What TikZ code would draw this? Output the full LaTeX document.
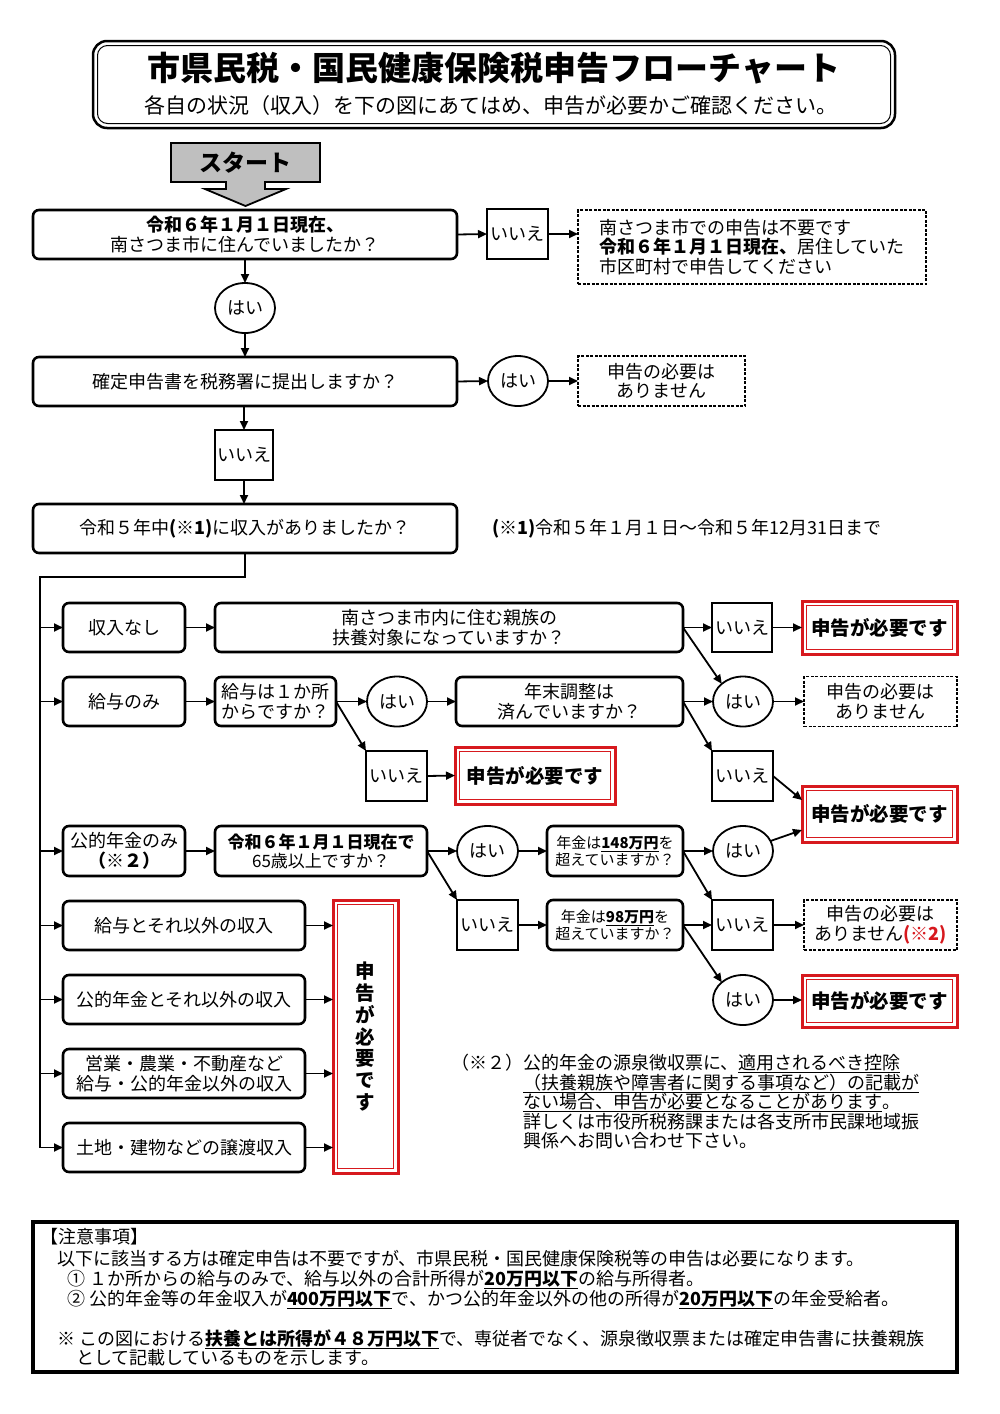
\documentclass[tikz,border=0pt]{standalone}
\usepackage{fontspec}
\setmainfont{Noto Sans CJK JP}
\usetikzlibrary{shapes.geometric,arrows.meta,calc}
\definecolor{rb}{RGB}{215,25,30}
\newcommand\fs[2]{\fontsize{#1pt}{#2pt}\selectfont}
\tikzset{
 base/.style={inner sep=0pt, outer sep=0pt, align=center, font=\fs{18}{19.5}},
 rbox/.style={base, draw, rounded corners=6pt, line width=2.6pt},
 nbox/.style={base, draw, line width=1.4pt},
 ell/.style={base, draw, ellipse, line width=1.8pt},
 dbox/.style={base, draw, line width=1.6pt, dash pattern=on 3pt off 1.5pt},
 rbx/.style={base, draw=rb, line width=3pt, font=\bfseries\fs{19.5}{21.5}},
 arr/.style={-{Triangle[length=9pt,width=8pt]}, line width=1.8pt},
 ln/.style={line width=1.8pt},
 txt/.style={inner sep=0pt, outer sep=0pt, font=\fs{18}{19.5}, anchor=base west},
}
\newcommand\redbox[6]{%
 \node[rbx, minimum width=#4pt, minimum height=#5pt] (#1) at (#2,#3) {#6};
 \draw[rb, line width=1.1pt] ($(#1.north west)+(4.2pt,-4.2pt)$) rectangle ($(#1.south east)+(-4.2pt,4.2pt)$);
}
\begin{document}
\begin{tikzpicture}[x=1pt,y=-1pt]
\useasboundingbox (0,0) rectangle (1000,1414);
\fill[white] (0,0) rectangle (1000,1414);

% header
\draw[line width=2.5pt, rounded corners=14pt] (93,41) rectangle (895,128);
\draw[line width=1pt, rounded corners=10pt] (97.5,45.5) rectangle (890.5,123.5);
\node[font=\bfseries\fs{33}{36}, inner sep=0pt] (title) at (494,68) {市県民税・国民健康保険税申告フローチャート};
\node[font=\fs{21}{23}, inner sep=0pt] (sub) at (491,106) {各自の状況（収入）を下の図にあてはめ、申告が必要かご確認ください。};

% start arrow
\draw[line width=1.8pt, fill=black!25, line join=miter] (171,143) -- (320,143) -- (320,182) -- (265,182) -- (265,189) -- (286,189) -- (245.5,206) -- (205,189) -- (226,189) -- (226,182) -- (171,182) -- cycle;
\node[font=\bfseries\fs{23}{25}, inner sep=0pt] (start) at (245.5,162.5) {スタート};

% top chain
\node[rbox, minimum width=424pt, minimum height=49pt] (q1) at (245,234.5) {\textbf{令和６年１月１日現在、}\\南さつま市に住んでいましたか？};
\node[nbox, minimum width=61pt, minimum height=50pt] (n1) at (517.5,234) {いいえ};
\node[dbox, align=left, minimum width=348pt, minimum height=74pt] (d1) at (752,247) {南さつま市での申告は不要です\\\textbf{令和６年１月１日現在、}居住していた\\市区町村で申告してください};
\node[ell, minimum width=60pt, minimum height=50pt] (h1) at (245,308) {はい};
\node[rbox, minimum width=424pt, minimum height=49pt] (q2) at (245,381.5) {確定申告書を税務署に提出しますか？};
\node[ell, minimum width=60pt, minimum height=50pt] (h2) at (518,381) {はい};
\node[dbox, minimum width=167pt, minimum height=50pt] (d2) at (661.5,381) {申告の必要は\\ありません};
\node[nbox, minimum width=58pt, minimum height=50pt] (n2) at (244,455) {いいえ};
\node[rbox, minimum width=424pt, minimum height=49pt] (q3) at (245,528.5) {令和５年中\textbf{(※1)}に収入がありましたか？};
\node[txt, anchor=west] (note1) at (492,529) {\textbf{(※1)}令和５年１月１日～令和５年12月31日まで};

\draw[arr] (q1.east) -- (n1.west);
\draw[arr] (n1.east) -- (d1.west |- n1.east);
\draw[arr] (q1.south) -- (h1.north);
\draw[arr] (h1.south) -- (q2.north);
\draw[arr] (q2.east) -- (h2.west);
\draw[arr] (h2.east) -- (d2.west);
\draw[arr] (q2.south -| n2.north) -- (n2.north);
\draw[arr] (n2.south) -- (q3.north -| n2.south);

% left column
\node[rbox, minimum width=122pt, minimum height=49pt] (a1) at (124,627.5) {収入なし};
\node[rbox, minimum width=122pt, minimum height=49pt] (a2) at (124,701.5) {給与のみ};
\node[rbox, minimum width=122pt, minimum height=50pt] (a3) at (124,851) {公的年金のみ\\\textbf{（※２）}};
\node[rbox, minimum width=242pt, minimum height=49pt] (a4) at (184,925.5) {給与とそれ以外の収入};
\node[rbox, minimum width=242pt, minimum height=49pt] (a5) at (184,999.5) {公的年金とそれ以外の収入};
\node[rbox, minimum width=242pt, minimum height=49pt] (a6) at (184,1073.5) {営業・農業・不動産など\\給与・公的年金以外の収入};
\node[rbox, minimum width=242pt, minimum height=49pt] (a7) at (184,1147.5) {土地・建物などの譲渡収入};

\coordinate (t0) at (245,577);
\coordinate (tl) at (40,577);
\coordinate (tb) at (40,1147.5);
\draw[ln, line join=miter] (q3.south) -- (t0) -- (tl) -- (tb);
\foreach \n in {a1,a2,a3,a4,a5,a6,a7} \draw[arr] (tl |- \n.west) -- (\n.west);

% row 1
\node[rbox, minimum width=468pt, minimum height=49pt] (q11) at (449,627.5) {南さつま市内に住む親族の\\扶養対象になっていますか？};
\node[nbox, minimum width=60pt, minimum height=49pt] (n11) at (742,627.5) {いいえ};
\redbox{r11}{879.5}{627.5}{155}{53}{申告が必要です}
\draw[arr] (a1.east) -- (q11.west);
\draw[arr] (q11.east) -- (n11.west);
\draw[arr] (n11.east) -- (r11.west);

% row 2
\node[rbox, minimum width=121pt, minimum height=49pt] (q21) at (275.5,701.5) {給与は１か所\\からですか？};
\node[ell, minimum width=60pt, minimum height=50pt] (h21) at (397,701.5) {はい};
\node[rbox, minimum width=227pt, minimum height=49pt] (q22) at (569.5,701.5) {年末調整は\\済んでいますか？};
\node[ell, minimum width=60pt, minimum height=50pt] (h22) at (743,701.5) {はい};
\node[dbox, minimum width=153pt, minimum height=50pt] (d22) at (880.5,701.5) {申告の必要は\\ありません};
\node[nbox, minimum width=61pt, minimum height=50pt] (n21) at (396.5,776) {いいえ};
\redbox{r21}{535}{775.5}{160}{57}{申告が必要です}
\node[nbox, minimum width=61pt, minimum height=50pt] (n22) at (742.5,776) {いいえ};
\redbox{r22}{879.5}{814}{155}{56}{申告が必要です}
\draw[arr] (a2.east) -- (q21.west);
\draw[arr] (q21.east) -- (h21.west);
\draw[arr] (h21.east) -- (q22.west);
\draw[arr] (q22.east) -- (h22.west);
\draw[arr] (h22.east) -- (d22.west);
\draw[arr] (q11.east) -- (h22.north west);
\draw[arr] (q21.east) -- (n21.north west);
\draw[arr] (n21.east) -- (r21.west);
\draw[arr] (q22.east) -- (n22.north west);
\draw[arr] (n22.east) -- ([yshift=14pt]r22.west);

% row 3
\node[rbox, minimum width=212pt, minimum height=50pt, font=\fs{17}{19}] (q31) at (321,851) {\textbf{令和６年１月１日現在で}\\65歳以上ですか？};
\node[ell, minimum width=61pt, minimum height=50pt] (h31) at (487.5,851) {はい};
\node[rbox, minimum width=136pt, minimum height=50pt, font=\fs{15}{17}] (q32) at (615,851) {年金は\textbf{\underline{148万円}}を\\超えていますか？};
\node[ell, minimum width=60pt, minimum height=50pt] (h32) at (743,851) {はい};
\node[nbox, minimum width=61pt, minimum height=50pt] (n31) at (487.5,925) {いいえ};
\node[rbox, minimum width=136pt, minimum height=50pt, font=\fs{15}{17}] (q33) at (615,925) {年金は\textbf{\underline{98万円}}を\\超えていますか？};
\node[nbox, minimum width=61pt, minimum height=50pt] (n32) at (742.5,925) {いいえ};
\node[dbox, minimum width=153pt, minimum height=50pt] (d33) at (880.5,925) {申告の必要は\\ありません\textcolor{rb}{\textbf{(※2)}}};
\node[ell, minimum width=60pt, minimum height=50pt] (h33) at (743,1000) {はい};
\redbox{r33}{879.5}{1001}{155}{52}{申告が必要です}
\draw[arr] (a3.east) -- (q31.west);
\draw[arr] (q31.east) -- (h31.west);
\draw[arr] (h31.east) -- (q32.west);
\draw[arr] (q32.east) -- (h32.west);
\draw[arr] (h32.20) -- ([yshift=-16pt]r22.west);
\draw[arr] (q31.east) -- (n31.north west);
\draw[arr] (n31.east) -- (q33.west);
\draw[arr] (q33.east) -- (n32.west);
\draw[arr] (n32.east) -- (d33.west);
\draw[arr] (q32.east) -- (n32.north west);
\draw[arr] (q33.east) -- (h33.north west);
\draw[arr] (h33.east) -- (r33.west |- h33.east);

% big red box
\node[rbx, minimum width=65pt, minimum height=273pt, font=\bfseries\fs{19.5}{21.7}] (big) at (365.5,1036.5) {申\\告\\が\\必\\要\\で\\す};
\draw[rb, line width=1.1pt] ($(big.north west)+(4.2pt,-4.2pt)$) rectangle ($(big.south east)+(-4.2pt,4.2pt)$);
\foreach \n in {a4,a5,a6,a7} \draw[arr] (\n.east) -- (big.west |- \n.east);

% note 2
\node[txt, anchor=base east] (m0) at (523,1069) {（※２）};
\node[txt] (m1) at (523,1069) {公的年金の源泉徴収票に、\underline{適用されるべき控除}};
\node[txt] (m2) at (523,1089) {\underline{（扶養親族や障害者に関する事項など）の記載が}};
\node[txt] (m3) at (523,1108) {\underline{ない場合、申告が必要となることがあります}。};
\node[txt] (m4) at (523,1128) {詳しくは市役所税務課または各支所市民課地域振};
\node[txt] (m5) at (523,1147) {興係へお問い合わせ下さい。};

% bottom notes
\draw[line width=4pt] (33,1222) rectangle (957,1372);
\node[txt] (p1) at (40,1243) {【注意事項】};
\node[txt] (p2) at (57,1265) {以下に該当する方は確定申告は不要ですが、市県民税・国民健康保険税等の申告は必要になります。};
\node[txt] (p3) at (67,1285) {①\ １か所からの給与のみで、給与以外の合計所得が\textbf{\underline{20万円以下}}の給与所得者。};
\node[txt] (p4) at (67,1305) {②\ 公的年金等の年金収入が\textbf{\underline{400万円以下}}で、かつ公的年金以外の他の所得が\textbf{\underline{20万円以下}}の年金受給者。};
\node[txt] (p5) at (57,1345) {※\ この図における\textbf{\underline{扶養とは所得が４８万円以下}}で、専従者でなく、源泉徴収票または確定申告書に扶養親族};
\node[txt] (p6) at (76,1364) {として記載しているものを示します。};
\end{tikzpicture}
\end{document}
